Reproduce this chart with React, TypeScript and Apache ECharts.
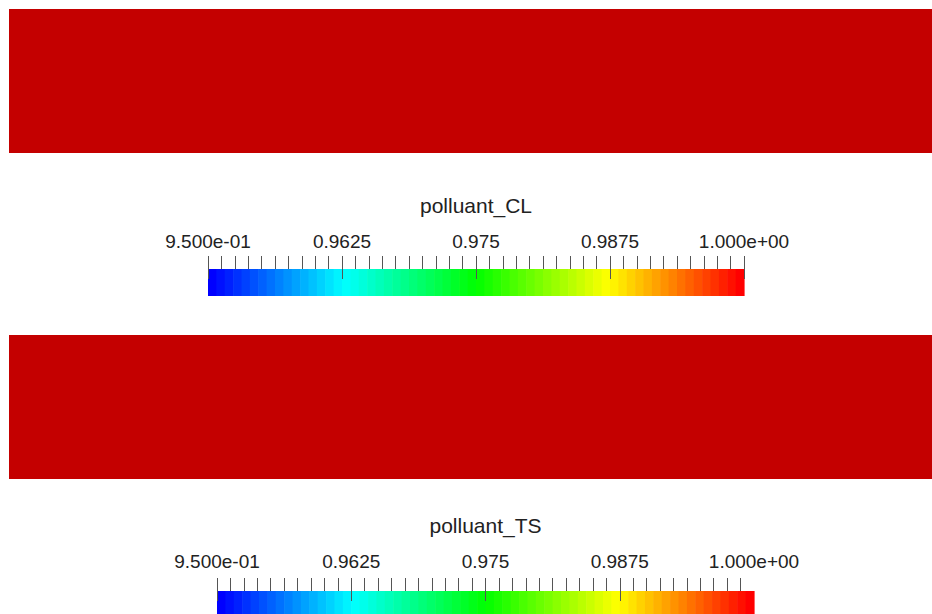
import React, { useEffect, useRef } from "react";
import * as echarts from "echarts";

// ---- data ----
const fieldNames = ["polluant_CL", "polluant_TS"];
const fieldValues = [1.0, 1.0];
const rangeMin = 0.95;
const rangeMax = 1.0;
const labelValues = [0.95, 0.9625, 0.975, 0.9875, 1.0];
const tickLabels = ["9.500e-01", "0.9625", "0.975", "0.9875", "1.000e+00"];
const minorTicksPerRange = 40;
const bandCount = 64;
const endTickShown = [true, false];

// HSV rainbow (blue -> red) lookup used by the colour legend
function hueColor(t: number): string {
  const h = (240 * (1 - t)) / 60;
  const i = Math.floor(h);
  const f = h - i;
  let r = 0, g = 0, b = 0;
  const q = 1 - f;
  switch (i) {
    case 0: r = 1; g = f; b = 0; break;
    case 1: r = q; g = 1; b = 0; break;
    case 2: r = 0; g = 1; b = f; break;
    case 3: r = 0; g = q; b = 1; break;
    default: r = 0; g = 0; b = 1; break;
  }
  const c = (v: number) => Math.round(v * 255);
  return `rgb(${c(r)},${c(g)},${c(b)})`;
}
const bandColors = Array.from({ length: bandCount }, (_, i) => hueColor(i / (bandCount - 1)));
const bands = Array.from({ length: bandCount }, (_, i) => [
  rangeMin + ((rangeMax - rangeMin) * i) / bandCount,
  rangeMin + ((rangeMax - rangeMin) * (i + 1)) / bandCount,
  i,
]);
const minorVals = Array.from({ length: minorTicksPerRange + 1 }, (_, i) =>
  +(rangeMin + ((rangeMax - rangeMin) * i) / minorTicksPerRange).toFixed(6)
);

const FONT = "Liberation Sans";

export default function App() {
  const ref = useRef<HTMLDivElement>(null);
  useEffect(() => {
    if (!ref.current) return;
    const chart = echarts.init(ref.current, null, { renderer: "svg" });

    const fieldGrids = [
      { left: 9, top: 9, width: 923, height: 144 },
      { left: 9, top: 335, width: 923, height: 144 },
    ];
    const barGrids = [
      { left: 208, top: 269, width: 536, height: 27 },
      { left: 217, top: 591, width: 537, height: 27 },
    ];
    const majorTickBottom = [279, 601];
    const labelMargins = [28, 30];
    const titleY = [205, 525];

    const grids: any[] = [];
    const xAxes: any[] = [];
    const yAxes: any[] = [];
    const series: any[] = [];
    const graphics: any[] = [];
    const tickStyle = { color: "#555", width: 1 };

    fieldNames.forEach((name, k) => {
      // field
      const gField = grids.length;
      grids.push(fieldGrids[k]);
      xAxes.push({ gridIndex: gField, type: "category", data: [name], show: false, boundaryGap: true });
      yAxes.push({ gridIndex: gField, type: "value", min: 0, max: 1, show: false });
      series.push({
        type: "bar",
        xAxisIndex: xAxes.length - 1,
        yAxisIndex: yAxes.length - 1,
        data: [fieldValues[k]],
        barWidth: "100%",
        itemStyle: { color: "#c40000" },
        silent: true,
      });

      // colour legend: bar + minor ticks + labels
      const minors = endTickShown[k] ? minorVals : minorVals.filter((v) => v < rangeMax);
      const majors = labelValues.filter((v) => endTickShown[k] || v < rangeMax);
      const gBar = grids.length;
      grids.push(barGrids[k]);
      xAxes.push({
        gridIndex: gBar,
        type: "value",
        min: rangeMin,
        max: rangeMax,
        position: "top",
        axisLine: { show: false, onZero: false },
        splitLine: { show: false },
        z: 10,
        axisTick: { show: true, inside: false, customValues: minors, length: 13, lineStyle: tickStyle },
        axisLabel: {
          show: true,
          customValues: labelValues,
          margin: labelMargins[k],
          verticalAlign: "middle",
          color: "#222",
          fontFamily: FONT,
          fontSize: 19,
          formatter: (v: number) =>
            tickLabels[Math.round(((v - rangeMin) / (rangeMax - rangeMin)) * (labelValues.length - 1))],
        },
      });
      yAxes.push({ gridIndex: gBar, type: "value", min: 0, max: 1, show: false });
      series.push({
        type: "custom",
        xAxisIndex: xAxes.length - 1,
        yAxisIndex: yAxes.length - 1,
        data: bands,
        z: 1,
        silent: true,
        renderItem: (params: any, api: any) => {
          const p0 = api.coord([api.value(0), 1]);
          const p1 = api.coord([api.value(1), 0]);
          return {
            type: "rect",
            shape: { x: p0[0], y: p0[1], width: p1[0] - p0[0] + 0.6, height: p1[1] - p0[1] },
            style: { fill: bandColors[api.value(2)] },
          };
        },
      });

      // major ticks: separate thin grid whose top is the lower end of the long ticks
      const gMaj = grids.length;
      grids.push({ left: barGrids[k].left, width: barGrids[k].width, top: majorTickBottom[k], height: 2 });
      xAxes.push({
        gridIndex: gMaj,
        type: "value",
        min: rangeMin,
        max: rangeMax,
        position: "top",
        axisLine: { show: false, onZero: false },
        splitLine: { show: false },
        z: 10,
        axisTick: { show: true, inside: false, customValues: majors, length: 23, lineStyle: tickStyle },
        axisLabel: { show: false },
      });
      yAxes.push({ gridIndex: gMaj, type: "value", min: 0, max: 1, show: false });

      graphics.push({
        type: "text",
        x: barGrids[k].left + barGrids[k].width / 2,
        y: titleY[k],
        style: {
          text: name,
          fill: "#222",
          font: `21px "${FONT}"`,
          textAlign: "center",
          textVerticalAlign: "middle",
        },
      });
    });

    chart.setOption({
      animation: false,
      backgroundColor: "#ffffff",
      grid: grids,
      xAxis: xAxes,
      yAxis: yAxes,
      series,
      graphic: graphics,
    });
    return () => chart.dispose();
  }, []);
  return (
    <div
      ref={ref}
      style={{ position: "absolute", left: 0, top: 0, width: 932, height: 614 }}
    />
  );
}
